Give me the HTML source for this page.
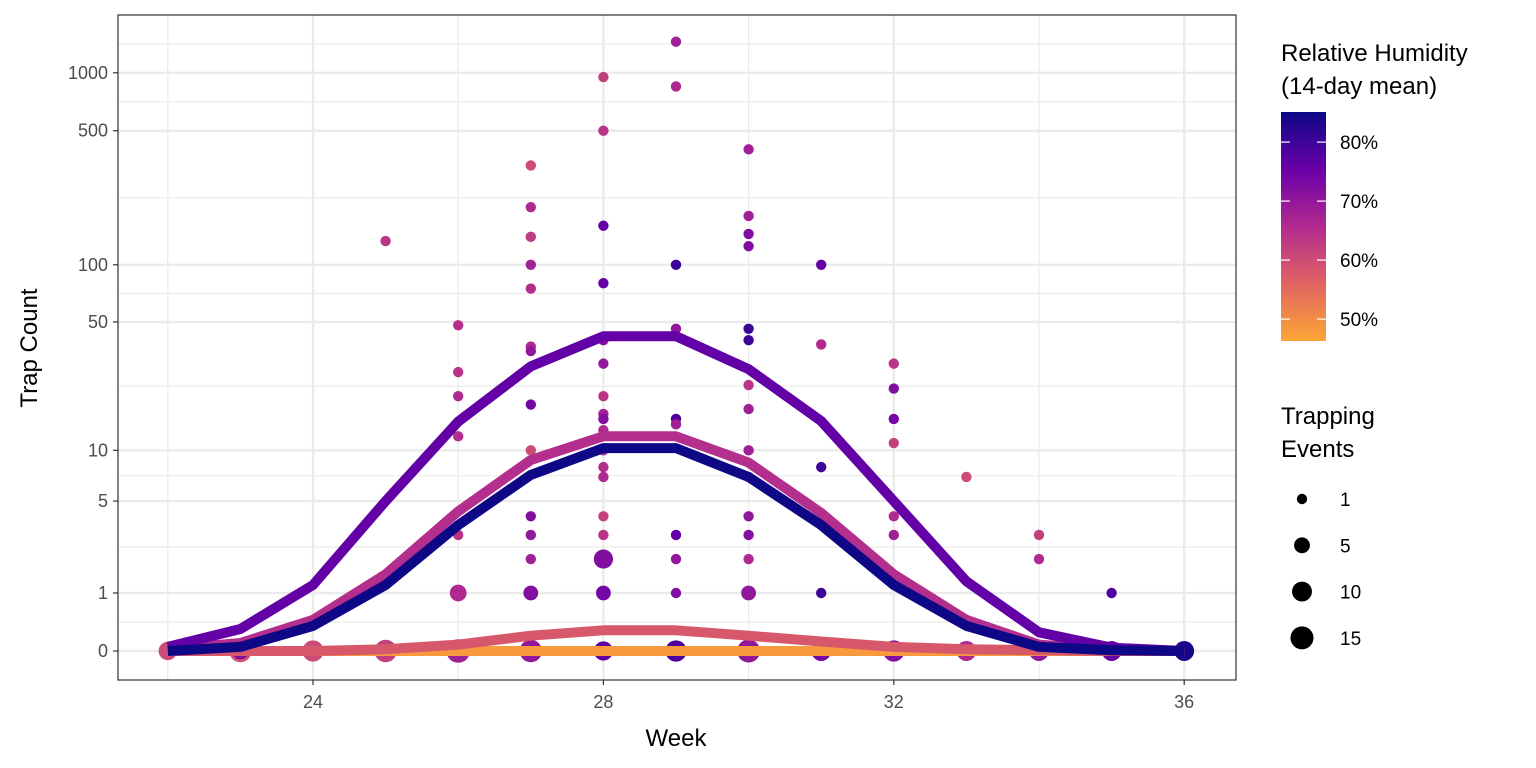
<!DOCTYPE html>
<html><head><meta charset="utf-8"><style>
body{margin:0;background:#fff;}
svg{display:block;font-family:"Liberation Sans",Arial,sans-serif;}
</style></head><body>
<svg id="chart" width="1536" height="768" viewBox="0 0 1536 768">
<defs><linearGradient id="grad" x1="0" y1="0" x2="0" y2="1">
<stop offset="0" stop-color="#0d0887"/><stop offset="0.25" stop-color="#6a00a8"/><stop offset="0.5" stop-color="#b12a90"/><stop offset="0.75" stop-color="#e16462"/><stop offset="1" stop-color="#fca636"/></linearGradient></defs>
<g id="grid"></g>
<g id="points"></g>
<g id="lines"></g>
<rect x="118" y="15" width="1118" height="665" fill="none" stroke="#333" stroke-width="1.2"/>
<g id="axes"></g>
<text x="676" y="746" font-size="24" text-anchor="middle">Week</text>
<text transform="translate(37,348) rotate(-90)" font-size="24" text-anchor="middle">Trap Count</text>
<g>
<text x="1281" y="61" font-size="24">Relative Humidity</text>
<text x="1281" y="94" font-size="24">(14-day mean)</text>
<rect x="1281" y="112" width="45" height="229" fill="url(#grad)"/>
<g id="cbticks"></g>
</g>
<g>
<text x="1281" y="424" font-size="24">Trapping</text>
<text x="1281" y="457" font-size="24">Events</text>
<g id="sizeleg"></g>
</g>
</svg>
<script>
const NS="http://www.w3.org/2000/svg";
const weeks=[22,23,24,25,26,27,28,29,30,31,32,33,34,35,36];
const lineHum=[48,58,65,76,85];
const lineOrange=[0,0,0,0,0,0,0,0,0,0,0,0,0,0,0];
const lineSalmon=[0,0,0,0.02,0.08,0.2,0.28,0.28,0.2,0.12,0.05,0.02,0.01,0,0];
const linePink=[0.02,0.1,0.45,1.5,4.3,8.8,12,12,8.5,4.2,1.5,0.45,0.08,0.01,0];
const linePurple=[0.05,0.3,1.2,5,14.5,29,42,42,28,14.6,5,1.3,0.25,0.04,0];
const lineNavy=[0,0.05,0.35,1.2,3.5,7.2,10.3,10.3,7,3.5,1.2,0.35,0.05,0.01,0];
const ptWeek=[22, 23,23, 24, 25,25, 26,26,26,26,26,26,26,
 27,27,27,27,27,27,27,27,27,27,27,27,27,27,
 28,28,28,28,28,28,28,28,28,28,28,28,28,28,28,28,28,28,
 29,29,29,29,29,29,29,29,29,29,
 30,30,30,30,30,30,30,30,30,30,30,30,30,30,30,
 31,31,31,31,31, 32,32,32,32,32,32,32, 33,33, 34,34,34, 35,35, 36];
const ptCount=[0, 0,0, 0, 133,0, 48,27,20,12,3,1,0,
 330,200,140,100,75,37,35,18,10,4,3,2,1,0,
 950,500,160,80,40,30,20,16,15,13,10,8,7,4,3,2,1,0,
 1450,850,100,46,15,14,3,2,1,0,
 400,180,145,125,46,40,23,17,10,7,4,3,2,1,0,
 100,38,8,1,0, 30,22,15,11,4,3,0, 7,0, 3,2,0, 1,0, 0];
const ptHum=[60, 59,72, 60, 64,62, 65,64,66,65,64,66,68,
 60,66,63,68,65,66,70,74,60,72,70,68,72,70,
 62,64,76,76,72,70,64,68,72,66,66,65,66,62,64,72,74,76,
 68,66,80,70,78,68,76,70,72,78,
 68,68,72,72,80,80,64,68,68,74,70,72,66,70,70,
 76,66,80,80,74, 64,72,74,62,66,68,72, 60,66, 62,66,70, 78,76, 84];
const ptEvents=[8, 14,6, 12, 1,14, 1,1,1,1,1,6,16,
 1,1,1,1,1,1,1,1,1,1,1,1,4,14,
 1,1,1,1,1,1,1,1,1,1,1,1,1,1,1,9,4,9,
 1,1,1,1,1,1,1,1,1,12,
 1,1,1,1,1,1,1,1,1,1,1,1,1,4,15,
 1,1,1,1,10, 1,1,1,1,1,1,12, 1,10, 1,1,10, 1,10, 10];
const yTicks=[0,1,5,10,50,100,500,1000];
const xTicks=[24,28,32,36];
const humTicks=[50,60,70,80];
const sizeVals=[1,5,10,15];
const X=w=>313+(w-24)*72.6;
const T=v=>Math.log10(v+1);
const Y=v=>651-192.7*T(v);
const R=n=>3+2.2*Math.sqrt(n);
function hum2col(h){const stops=[[85.1,[13,8,135]],[75.3,[106,0,168]],[65.7,[177,42,144]],[56,[225,100,98]],[46.3,[252,166,54]]];
 if(h>=stops[0][0])return 'rgb('+stops[0][1]+')';
 for(let i=0;i<4;i++){const a=stops[i],b=stops[i+1];if(h<=a[0]&&h>=b[0]){const t=(a[0]-h)/(a[0]-b[0]);return 'rgb('+a[1].map((c,k)=>Math.round(c+(b[1][k]-c)*t)).join(',')+')';}}
 return 'rgb(252,166,54)';}
function mk(tag,attrs,parent){const e=document.createElementNS(NS,tag);for(const k in attrs)e.setAttribute(k,attrs[k]);parent.appendChild(e);return e;}
const grid=document.getElementById('grid');
const minorT=[];
for(let i=0;i<yTicks.length-1;i++)minorT.push((T(yTicks[i])+T(yTicks[i+1]))/2);
minorT.push(T(1000)+(T(1000)-T(500))/2);
for(const t of minorT){const y=651-192.7*t;if(y<15)continue;
 const l=mk('line',{x1:118,x2:1236,y1:y,y2:y,stroke:'#ebebeb','stroke-width':1.2},grid);
 
 }
for(const w of [22,26,30,34]){const l=mk('line',{x1:X(w),x2:X(w),y1:15,y2:680,stroke:'#ebebeb','stroke-width':1.2},grid);
 
 }
const axes=document.getElementById('axes');
for(const v of yTicks){const y=Y(v);
 const l=mk('line',{x1:118,x2:1236,y1:y,y2:y,stroke:'#ebebeb','stroke-width':2.4},grid);
 
 
 mk('line',{x1:113,x2:118,y1:y,y2:y,stroke:'#333','stroke-width':1.2},axes);
 const t=mk('text',{x:108,y:y+6,'font-size':18,fill:'#4d4d4d','text-anchor':'end'},axes);t.textContent=v;
 
 }
for(const w of xTicks){const x=X(w);
 const l=mk('line',{x1:x,x2:x,y1:15,y2:680,stroke:'#ebebeb','stroke-width':2.4},grid);
 
 
 mk('line',{x1:x,x2:x,y1:680,y2:685,stroke:'#333','stroke-width':1.2},axes);
 const t=mk('text',{x:x,y:708,'font-size':18,fill:'#4d4d4d','text-anchor':'middle'},axes);t.textContent=w;
 
 }
const pts=document.getElementById('points');
const order=ptWeek.map((e,i)=>i).sort((a,b)=>ptEvents[b]-ptEvents[a]);
for(const i of order){const c=mk('circle',{cx:X(ptWeek[i]),cy:Y(ptCount[i]),r:R(ptEvents[i]),fill:hum2col(ptHum[i])},pts);
 
 }
const lines=document.getElementById('lines');
const series=[lineOrange,lineSalmon,linePink,linePurple,lineNavy];
const names=['line-humidity-48','line-humidity-58','line-humidity-65','line-humidity-76','line-humidity-85'];
series.forEach((s,k)=>{const d=s.map((v,i)=>(i?'L':'M')+X(weeks[i]).toFixed(1)+','+Y(v).toFixed(1)).join('');
 const p=mk('path',{d:d,fill:'none',stroke:hum2col(lineHum[k]),'stroke-width':10,'stroke-linejoin':'round'},lines);
 
 });
const cb=document.getElementById('cbticks');
for(const h of humTicks){const y=112+(85.1-h)*5.9;
 mk('line',{x1:1281,x2:1290,y1:y,y2:y,stroke:'#fff','stroke-width':1.2},cb);
 mk('line',{x1:1317,x2:1326,y1:y,y2:y,stroke:'#fff','stroke-width':1.2},cb);
 const t=mk('text',{x:1340,y:y+7,'font-size':19},cb);t.textContent=h+'%';
 
 }
const sl=document.getElementById('sizeleg');
sizeVals.forEach((v,i)=>{const y=499+i*46.3;
 const c=mk('circle',{cx:1302,cy:y,r:R(v),fill:'#000'},sl);
 
 
 const t=mk('text',{x:1340,y:y+7,'font-size':19},sl);t.textContent=v;
 
 });
</script>
</body></html>
